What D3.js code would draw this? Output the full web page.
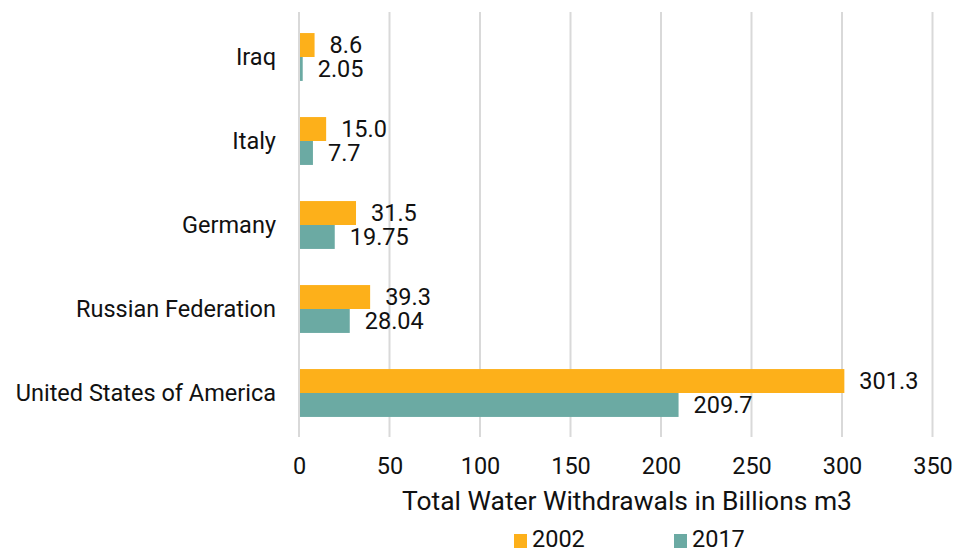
<!DOCTYPE html>
<html><head><meta charset="utf-8">
<script src="https://cdn.jsdelivr.net/npm/d3@7"></script>
<style>body{margin:0;background:#fff}svg{display:block;font-family:Roboto,sans-serif}</style>
</head><body><svg id="c" width="961" height="548"></svg>
<script>
const categories = ["Iraq", "Italy", "Germany", "Russian Federation", "United States of America"];
const series = ["2002", "2017"];
const values2002 = [8.6, 15.0, 31.5, 39.3, 301.3];
const values2017 = [2.05, 7.7, 19.75, 28.04, 209.7];
const labels2002 = ["8.6", "15.0", "31.5", "39.3", "301.3"];
const labels2017 = ["2.05", "7.7", "19.75", "28.04", "209.7"];
const tickValues = [0, 50, 100, 150, 200, 250, 300, 350];
const colors = ["#FDB01A", "#6BAAA3"];
const axisTitle = "Total Water Withdrawals in Billions m3";

const svg = d3.select("#c");
const mLeft = 299, mRight = 932.5, mTop = 15, mBottom = 435;
const x = d3.scaleLinear().domain([0, 350]).range([mLeft, mRight]);
const y = d3.scaleBand().domain(categories).range([mTop, mBottom]).paddingInner(0.43).paddingOuter(0.215);
const sub = d3.scaleBand().domain(series).range([0, y.bandwidth()]);

// gridlines
svg.append("g").selectAll("line").data(tickValues).join("line")
  .attr("x1", d => x(d)).attr("x2", d => x(d))
  .attr("y1", mTop - 3).attr("y2", mBottom + 2)
  .attr("stroke", "#d9d9d9").attr("stroke-width", 2);

const data = [];
categories.forEach((c, i) => {
  data.push({c, s: "2002", v: values2002[i], l: labels2002[i]});
  data.push({c, s: "2017", v: values2017[i], l: labels2017[i]});
});

svg.append("g").selectAll("rect").data(data).join("rect")
  .attr("x", x(0) + 1)
  .attr("y", d => y(d.c) + sub(d.s))
  .attr("width", d => x(d.v) - x(0) - 1)
  .attr("height", sub.bandwidth())
  .attr("fill", d => colors[series.indexOf(d.s)]);

svg.append("g").selectAll("text").data(data).join("text")
  .attr("x", d => x(d.v) + 15)
  .attr("y", d => y(d.c) + sub(d.s) + sub.bandwidth() / 2)
  .attr("dy", "0.36em")
  .attr("font-size", 23.5).attr("fill", "#111")
  .text(d => d.l);

// category labels
svg.append("g").selectAll("text").data(categories).join("text")
  .attr("x", mLeft - 23)
  .attr("y", d => y(d) + y.bandwidth() / 2)
  .attr("dy", "0.36em")
  .attr("text-anchor", "end")
  .attr("font-size", 23.5).attr("fill", "#111")
  .text(d => d);

// x axis tick labels
const ax = svg.append("g").attr("transform", `translate(0,${mBottom})`)
  .call(d3.axisBottom(x).tickValues(tickValues).tickSize(0).tickPadding(0).tickFormat(d3.format("d")));
ax.select(".domain").remove();
ax.selectAll("text").attr("font-size", 23.5).attr("fill", "#111").attr("font-family", "Roboto, sans-serif")
  .attr("dy", null).attr("y", 39);

svg.append("text").attr("x", 627).attr("y", 510)
  .attr("text-anchor", "middle").attr("font-size", 26.4).attr("fill", "#111")
  .text(axisTitle);

// legend
const lg = svg.append("g");
const legX = [514, 674];
series.forEach((s, i) => {
  lg.append("rect").attr("x", legX[i]).attr("y", 534).attr("width", 13).attr("height", 14).attr("fill", colors[i]);
  lg.append("text").attr("x", legX[i] + 18).attr("y", 547)
    .attr("font-size", 23.5).attr("fill", "#111").text(s);
});
</script></body></html>
